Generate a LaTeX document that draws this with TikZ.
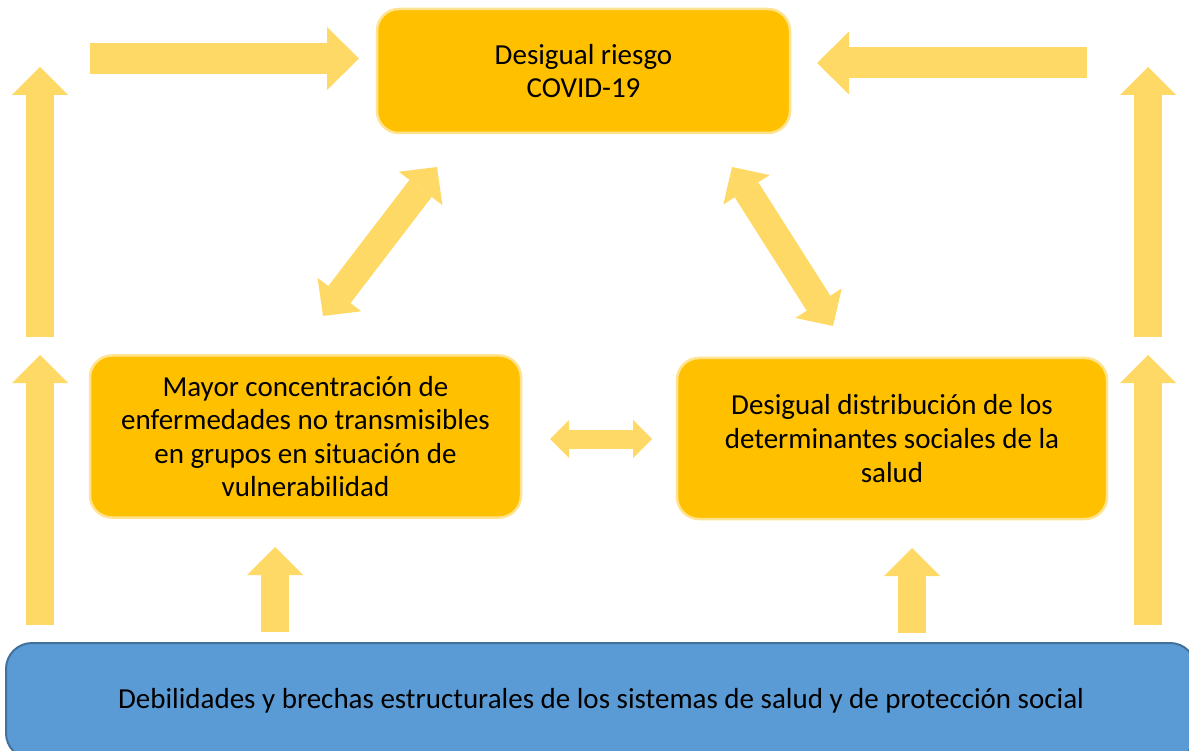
\documentclass[tikz,border=0pt]{standalone}
\usepackage{xcolor}
\usepackage{fontspec}
\setmainfont{Carlito}
\usepackage{tikz}
\usetikzlibrary{arrows.meta}

\definecolor{boxyellow}{HTML}{FFC000}
\definecolor{boxedge}{HTML}{FFE38F}
\definecolor{arrowyellow}{HTML}{FFD966}
\definecolor{baseblue}{HTML}{5B9BD5}
\definecolor{baseedge}{HTML}{41719C}

\tikzset{
  factor/.style={draw=boxedge, line width=2.5pt, fill=boxyellow, rounded corners=22pt,
    align=center, inner sep=0pt, font=\fontsize{29}{33.6}\selectfont},
  base/.style={draw=baseedge, line width=2pt, fill=baseblue, rounded corners=26pt,
    inner sep=0pt, text height=21pt, text depth=6pt, font=\fontsize{29}{33.6}\selectfont},
  uparrow/.style={draw=arrowyellow, line width=28pt,
    -{Triangle[length=28pt,width=56pt,line width=0pt]}},
  toparrow/.style={draw=arrowyellow, line width=31pt,
    -{Triangle[length=32pt,width=63pt,line width=0pt]}},
  mutual/.style={draw=arrowyellow, line width=28pt,
    {Triangle[length=27pt,width=55pt,line width=0pt]}-{Triangle[length=27pt,width=55pt,line width=0pt]}},
  smallmutual/.style={draw=arrowyellow, line width=19pt,
    {Triangle[length=19pt,width=38pt,line width=0pt]}-{Triangle[length=19pt,width=38pt,line width=0pt]}}
}

\begin{document}
\begin{tikzpicture}[x=1pt, y=-1pt]
    \clip (0,0) rectangle (1189,751);

    \node[factor, minimum width=413pt, minimum height=124pt] (riesgo) at (583.5,71)
        {Desigual riesgo\\COVID-19};
    \node[factor, minimum width=431pt, minimum height=162pt] (cronicas) at (305.5,436.5)
        {Mayor concentración de\\enfermedades no transmisibles\\en grupos en situación de\\vulnerabilidad};
    \node[factor, minimum width=430pt, minimum height=161pt] (determinantes) at (892,438.5)
        {Desigual distribución de los\\determinantes sociales de la\\salud};
    \node[base, minimum width=1190pt, minimum height=116pt] (brechas) at (601,701)
        {Debilidades y brechas estructurales de los sistemas de salud y de protección social};

    % arrow ends
    \coordinate (izq1) at (40,625);   \coordinate (izq2) at (40,355);
    \coordinate (izq3) at (40,337);   \coordinate (izq4) at (40,67);
    \coordinate (der1) at (1148,625); \coordinate (der2) at (1148,355);
    \coordinate (der3) at (1148,337); \coordinate (der4) at (1148,67);
    \coordinate (sup1) at (90,58.5);  \coordinate (sup2) at (359,58.5);
    \coordinate (sup3) at (1087,63);  \coordinate (sup4) at (817,63);
    \coordinate (cen1) at (275,632);  \coordinate (cen2) at (275,547);
    \coordinate (cen3) at (912,633);  \coordinate (cen4) at (912,548);
    \coordinate (dia1) at (323,316);  \coordinate (dia2) at (437,167);
    \coordinate (dia3) at (732,167);  \coordinate (dia4) at (833,326);
    \coordinate (hor1) at (550,439);  \coordinate (hor2) at (652,439);

    \draw[uparrow] (izq1) -- (izq2);
    \draw[uparrow] (izq3) -- (izq4);
    \draw[uparrow] (der1) -- (der2);
    \draw[uparrow] (der3) -- (der4);
    \draw[toparrow] (sup1) -- (sup2);
    \draw[toparrow] (sup3) -- (sup4);
    \draw[uparrow] (cen1) -- (cen2);
    \draw[uparrow] (cen3) -- (cen4);
    \draw[mutual] (dia1) -- (dia2);
    \draw[mutual] (dia3) -- (dia4);
    \draw[smallmutual] (hor1) -- (hor2);
\end{tikzpicture}
\end{document}
